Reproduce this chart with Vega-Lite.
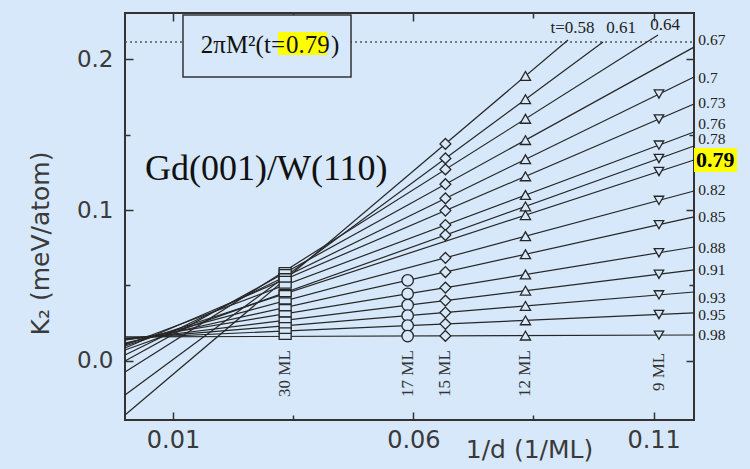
{
  "$schema": "https://vega.github.io/schema/vega-lite/v6.json",
  "width": 569,
  "height": 407,
  "autosize": "none",
  "padding": {"left": 125, "top": 13, "right": 56, "bottom": 49},
  "background": "#d6e8fa",
  "config": {"view": {"stroke": "#333333", "strokeWidth": 2, "fill": "#d6e8fa"}},
  "datasets": {
    "lines": [
      {"t": "0.58", "x": 0, "y": -0.0358}, {"t": "0.58", "x": 0.09218, "y": 0.2126},
      {"t": "0.61", "x": 0, "y": -0.0225}, {"t": "0.61", "x": 0.09947, "y": 0.2113},
      {"t": "0.64", "x": 0, "y": -0.0073}, {"t": "0.64", "x": 0.11091, "y": 0.2159},
      {"t": "0.67", "x": 0, "y": 0.0}, {"t": "0.67", "x": 0.1184, "y": 0.2079},
      {"t": "0.7", "x": 0, "y": 0.0040}, {"t": "0.7", "x": 0.1184, "y": 0.1881},
      {"t": "0.73", "x": 0, "y": 0.0086}, {"t": "0.73", "x": 0.1184, "y": 0.1702},
      {"t": "0.76", "x": 0, "y": 0.0106}, {"t": "0.76", "x": 0.1184, "y": 0.1517},
      {"t": "0.78", "x": 0, "y": 0.0073}, {"t": "0.78", "x": 0.1184, "y": 0.1424},
      {"t": "0.79", "x": 0, "y": 0.0099}, {"t": "0.79", "x": 0.1184, "y": 0.1331},
      {"t": "0.82", "x": 0, "y": 0.0113}, {"t": "0.82", "x": 0.1184, "y": 0.1126},
      {"t": "0.85", "x": 0, "y": 0.0119}, {"t": "0.85", "x": 0.1184, "y": 0.0954},
      {"t": "0.88", "x": 0, "y": 0.0139}, {"t": "0.88", "x": 0.1184, "y": 0.0755},
      {"t": "0.91", "x": 0, "y": 0.0139}, {"t": "0.91", "x": 0.1184, "y": 0.0603},
      {"t": "0.93", "x": 0, "y": 0.0146}, {"t": "0.93", "x": 0.1184, "y": 0.0457},
      {"t": "0.95", "x": 0, "y": 0.0152}, {"t": "0.95", "x": 0.1184, "y": 0.0318},
      {"t": "0.98", "x": 0, "y": 0.0159}, {"t": "0.98", "x": 0.1184, "y": 0.0172}
    ],
    "pts": [
      {"t": "0.58", "d": "30 ML", "x": 0.03333, "y": 0.0540}, {"t": "0.58", "d": "15 ML", "x": 0.06667, "y": 0.1438}, {"t": "0.58", "d": "12 ML", "x": 0.08333, "y": 0.1888},
      {"t": "0.61", "d": "30 ML", "x": 0.03333, "y": 0.0559}, {"t": "0.61", "d": "15 ML", "x": 0.06667, "y": 0.1342}, {"t": "0.61", "d": "12 ML", "x": 0.08333, "y": 0.1734},
      {"t": "0.64", "d": "30 ML", "x": 0.03333, "y": 0.0598}, {"t": "0.64", "d": "15 ML", "x": 0.06667, "y": 0.1269}, {"t": "0.64", "d": "12 ML", "x": 0.08333, "y": 0.1604},
      {"t": "0.67", "d": "30 ML", "x": 0.03333, "y": 0.0585}, {"t": "0.67", "d": "15 ML", "x": 0.06667, "y": 0.1171}, {"t": "0.67", "d": "12 ML", "x": 0.08333, "y": 0.1463},
      {"t": "0.7", "d": "30 ML", "x": 0.03333, "y": 0.0558}, {"t": "0.7", "d": "15 ML", "x": 0.06667, "y": 0.1077}, {"t": "0.7", "d": "12 ML", "x": 0.08333, "y": 0.1336}, {"t": "0.7", "d": "9 ML", "x": 0.11111, "y": 0.1768},
      {"t": "0.73", "d": "30 ML", "x": 0.03333, "y": 0.0541}, {"t": "0.73", "d": "15 ML", "x": 0.06667, "y": 0.0996}, {"t": "0.73", "d": "12 ML", "x": 0.08333, "y": 0.1223}, {"t": "0.73", "d": "9 ML", "x": 0.11111, "y": 0.1603},
      {"t": "0.76", "d": "30 ML", "x": 0.03333, "y": 0.0503}, {"t": "0.76", "d": "15 ML", "x": 0.06667, "y": 0.0901}, {"t": "0.76", "d": "12 ML", "x": 0.08333, "y": 0.1099}, {"t": "0.76", "d": "9 ML", "x": 0.11111, "y": 0.1430},
      {"t": "0.78", "d": "30 ML", "x": 0.03333, "y": 0.0453}, {"t": "0.78", "d": "15 ML", "x": 0.06667, "y": 0.0834}, {"t": "0.78", "d": "12 ML", "x": 0.08333, "y": 0.1024}, {"t": "0.78", "d": "9 ML", "x": 0.11111, "y": 0.1341},
      {"t": "0.79", "d": "30 ML", "x": 0.03333, "y": 0.0446}, {"t": "0.79", "d": "12 ML", "x": 0.08333, "y": 0.0966}, {"t": "0.79", "d": "9 ML", "x": 0.11111, "y": 0.1255},
      {"t": "0.82", "d": "30 ML", "x": 0.03333, "y": 0.0398}, {"t": "0.82", "d": "15 ML", "x": 0.06667, "y": 0.0683}, {"t": "0.82", "d": "12 ML", "x": 0.08333, "y": 0.0826}, {"t": "0.82", "d": "9 ML", "x": 0.11111, "y": 0.1064},
      {"t": "0.85", "d": "30 ML", "x": 0.03333, "y": 0.0354}, {"t": "0.85", "d": "17 ML", "x": 0.05882, "y": 0.0534}, {"t": "0.85", "d": "15 ML", "x": 0.06667, "y": 0.0589}, {"t": "0.85", "d": "12 ML", "x": 0.08333, "y": 0.0707}, {"t": "0.85", "d": "9 ML", "x": 0.11111, "y": 0.0903},
      {"t": "0.88", "d": "30 ML", "x": 0.03333, "y": 0.0312}, {"t": "0.88", "d": "17 ML", "x": 0.05882, "y": 0.0445}, {"t": "0.88", "d": "15 ML", "x": 0.06667, "y": 0.0486}, {"t": "0.88", "d": "12 ML", "x": 0.08333, "y": 0.0573}, {"t": "0.88", "d": "9 ML", "x": 0.11111, "y": 0.0717},
      {"t": "0.91", "d": "30 ML", "x": 0.03333, "y": 0.0270}, {"t": "0.91", "d": "17 ML", "x": 0.05882, "y": 0.0370}, {"t": "0.91", "d": "15 ML", "x": 0.06667, "y": 0.0400}, {"t": "0.91", "d": "12 ML", "x": 0.08333, "y": 0.0466}, {"t": "0.91", "d": "9 ML", "x": 0.11111, "y": 0.0574},
      {"t": "0.93", "d": "30 ML", "x": 0.03333, "y": 0.0234}, {"t": "0.93", "d": "17 ML", "x": 0.05882, "y": 0.0301}, {"t": "0.93", "d": "15 ML", "x": 0.06667, "y": 0.0321}, {"t": "0.93", "d": "12 ML", "x": 0.08333, "y": 0.0365}, {"t": "0.93", "d": "9 ML", "x": 0.11111, "y": 0.0438},
      {"t": "0.95", "d": "30 ML", "x": 0.03333, "y": 0.0199}, {"t": "0.95", "d": "17 ML", "x": 0.05882, "y": 0.0235}, {"t": "0.95", "d": "15 ML", "x": 0.06667, "y": 0.0246}, {"t": "0.95", "d": "12 ML", "x": 0.08333, "y": 0.0269}, {"t": "0.95", "d": "9 ML", "x": 0.11111, "y": 0.0308},
      {"t": "0.98", "d": "30 ML", "x": 0.03333, "y": 0.0163}, {"t": "0.98", "d": "17 ML", "x": 0.05882, "y": 0.0165}, {"t": "0.98", "d": "15 ML", "x": 0.06667, "y": 0.0166}, {"t": "0.98", "d": "12 ML", "x": 0.08333, "y": 0.0168}, {"t": "0.98", "d": "9 ML", "x": 0.11111, "y": 0.0171}
    ],
    "rightLabels": [
      {"label": "0.67", "x": 0.1193, "y": 0.2126},
      {"label": "0.7", "x": 0.1193, "y": 0.1874},
      {"label": "0.73", "x": 0.1193, "y": 0.1709},
      {"label": "0.76", "x": 0.1193, "y": 0.1573},
      {"label": "0.78", "x": 0.1193, "y": 0.1472},
      {"label": "0.82", "x": 0.1193, "y": 0.1132},
      {"label": "0.85", "x": 0.1193, "y": 0.0954},
      {"label": "0.88", "x": 0.1193, "y": 0.0748},
      {"label": "0.91", "x": 0.1193, "y": 0.0603},
      {"label": "0.93", "x": 0.1193, "y": 0.0420},
      {"label": "0.95", "x": 0.1193, "y": 0.0302},
      {"label": "0.98", "x": 0.1193, "y": 0.0172}
    ],
    "topLabels": [
      {"label": "t=0.58", "x": 0.09312, "y": 0.2205},
      {"label": "0.61", "x": 0.10321, "y": 0.2205},
      {"label": "0.64", "x": 0.11237, "y": 0.2225}
    ],
    "mlLabels": [
      {"label": "30 ML", "x": 0.03333, "y": -0.0083},
      {"label": "17 ML", "x": 0.05882, "y": -0.0083},
      {"label": "15 ML", "x": 0.06667, "y": -0.0083},
      {"label": "12 ML", "x": 0.08333, "y": -0.0083},
      {"label": "9 ML", "x": 0.11111, "y": -0.0073}
    ]
  },
  "encoding": {
    "x": {"field": "x", "type": "quantitative", "scale": {"domain": [0, 0.1184], "nice": false, "zero": false}, "axis": null},
    "y": {"field": "y", "type": "quantitative", "scale": {"domain": [-0.0391, 0.2305], "nice": false, "zero": false}, "axis": null}
  },
  "resolve": {"axis": {"x": "independent", "y": "independent"}},
  "layer": [
    {
      "data": {"values": [{"x": 0, "x2": 0.1184, "y": 0.2113}]},
      "mark": {"type": "rule", "color": "#555555", "strokeWidth": 1.6, "strokeDash": [2, 3]},
      "encoding": {"x2": {"field": "x2"}}
    },
    {
      "data": {"values": [{"x": 0.01207, "x2": 0.04703, "y": 0.2291, "y2": 0.1881}]},
      "mark": {"type": "rect", "fill": "#d6e8fa", "stroke": "#333333", "strokeWidth": 1.5},
      "encoding": {"x2": {"field": "x2"}, "y2": {"field": "y2"}}
    },
    {
      "data": {"values": [
        {"x": 0.03184, "x2": 0.04203, "y": 0.2179, "y2": 0.2026},
        {"x": 0.1184, "x2": 0.12735, "y": 0.1411, "y2": 0.1252}
      ]},
      "mark": {"type": "rect", "fill": "#ffff00"},
      "encoding": {"x2": {"field": "x2"}, "y2": {"field": "y2"}}
    },
    {
      "data": {"name": "lines"},
      "mark": {"type": "line", "color": "#262626", "strokeWidth": 1.2},
      "encoding": {
        "x": {"field": "x", "type": "quantitative", "scale": {"domain": [0, 0.1184], "nice": false, "zero": false},
          "axis": {"orient": "bottom", "values": [0.01, 0.035, 0.06, 0.085, 0.11],
            "labelExpr": "(datum.value == 0.035 || datum.value == 0.085) ? '' : format(datum.value, '.2f')",
            "domain": false, "grid": false, "tickColor": "#333333", "tickWidth": 1.5,
            "tickSize": {"condition": {"test": "datum.value == 0.035 || datum.value == 0.085", "value": -5}, "value": -8},
            "labelFont": "DejaVu Sans", "labelFontSize": 24, "labelColor": "#3a3a3a", "labelPadding": 16,
            "title": "1/d (1/ML)", "titleFont": "DejaVu Sans", "titleFontSize": 25, "titleFontWeight": "normal", "titleColor": "#3a3a3a",
            "titleX": 404, "titleY": 37, "titleBaseline": "alphabetic", "titleAlign": "center"}},
        "y": {"field": "y", "type": "quantitative", "scale": {"domain": [-0.0391, 0.2305], "nice": false, "zero": false},
          "axis": {"orient": "left", "values": [0, 0.05, 0.1, 0.15, 0.2],
            "labelExpr": "(datum.value == 0.05 || datum.value == 0.15) ? '' : format(datum.value, '.1f')",
            "domain": false, "grid": false, "tickColor": "#333333", "tickWidth": 1.5,
            "tickSize": {"condition": {"test": "datum.value == 0.05 || datum.value == 0.15", "value": -5}, "value": -8},
            "labelFont": "DejaVu Sans", "labelFontSize": 23, "labelColor": "#3a3a3a", "labelPadding": 20,
            "title": "K₂ (meV/atom)", "titleFont": "DejaVu Sans", "titleFontSize": 25, "titleFontWeight": "normal", "titleColor": "#3a3a3a",
            "titleX": -77, "titleY": 230, "titleBaseline": "alphabetic", "titleAlign": "center", "titleAngle": -90}},
        "detail": {"field": "t"},
        "order": {"field": "x", "type": "quantitative"}
      }
    },
    {
      "data": {"name": "pts"},
      "mark": {"type": "point", "fill": "#d6e8fa", "stroke": "#262626", "strokeWidth": 1.3, "opacity": 1},
      "encoding": {
        "x": {"field": "x", "type": "quantitative", "scale": {"domain": [0, 0.1184], "nice": false, "zero": false},
          "axis": {"orient": "top", "values": [0.01, 0.035, 0.06, 0.085, 0.11], "labels": false, "title": null,
            "domain": false, "grid": false, "tickColor": "#333333", "tickWidth": 1.5,
            "tickSize": {"condition": {"test": "datum.value == 0.035 || datum.value == 0.085", "value": -5}, "value": -8}}},
        "y": {"field": "y", "type": "quantitative", "scale": {"domain": [-0.0391, 0.2305], "nice": false, "zero": false},
          "axis": {"orient": "right", "values": [0, 0.05, 0.1, 0.15, 0.2], "labels": false, "title": null,
            "domain": false, "grid": false, "tickColor": "#333333", "tickWidth": 1.5,
            "tickSize": {"condition": {"test": "datum.value == 0.05 || datum.value == 0.15", "value": -5}, "value": -8}}},
        "shape": {"field": "d", "type": "nominal", "legend": null,
          "scale": {"domain": ["30 ML", "17 ML", "15 ML", "12 ML", "9 ML"],
            "range": ["M-1,-0.5H1V0.5H-1Z", "circle", "diamond", "triangle-up", "triangle-down"]}},
        "size": {"field": "d", "type": "nominal", "legend": null,
          "scale": {"domain": ["30 ML", "17 ML", "15 ML", "12 ML", "9 ML"], "range": [144, 90, 110, 120, 120]}}
      }
    },
    {
      "data": {"values": [{"label": "Gd(001)/W(110)", "x": 0.00416, "y": 0.1199}]},
      "mark": {"type": "text", "font": "Liberation Serif", "fontSize": 36, "align": "left", "baseline": "alphabetic", "color": "#111111"},
      "encoding": {"text": {"field": "label"}}
    },
    {
      "data": {"values": [
        {"label": "2πM²(t=", "x": 0.03329, "y": 0.2038, "a": "right"},
        {"label": "0.79", "x": 0.0335, "y": 0.2038, "a": "left"},
        {"label": ")", "x": 0.04285, "y": 0.2038, "a": "left"}
      ]},
      "mark": {"type": "text", "font": "Liberation Serif", "fontSize": 25, "baseline": "alphabetic", "color": "#111111", "align": {"expr": "datum.a"}},
      "encoding": {"text": {"field": "label"}}
    },
    {
      "data": {"name": "topLabels"},
      "mark": {"type": "text", "font": "Liberation Serif", "fontSize": 17, "align": "center", "baseline": "middle", "color": "#222222"},
      "encoding": {"text": {"field": "label"}}
    },
    {
      "data": {"name": "rightLabels"},
      "mark": {"type": "text", "font": "Liberation Serif", "fontSize": 15.5, "align": "left", "baseline": "middle", "color": "#222222"},
      "encoding": {"text": {"field": "label"}}
    },
    {
      "data": {"values": [{"label": "0.79", "x": 0.11882, "y": 0.1331}]},
      "mark": {"type": "text", "font": "Liberation Serif", "fontSize": 22, "fontWeight": "bold", "align": "left", "baseline": "middle", "color": "#000000"},
      "encoding": {"text": {"field": "label"}}
    },
    {
      "data": {"name": "mlLabels"},
      "mark": {"type": "text", "font": "Liberation Serif", "fontSize": 17, "align": "center", "baseline": "middle", "angle": 270, "color": "#333333"},
      "encoding": {"text": {"field": "label"}}
    }
  ]
}
